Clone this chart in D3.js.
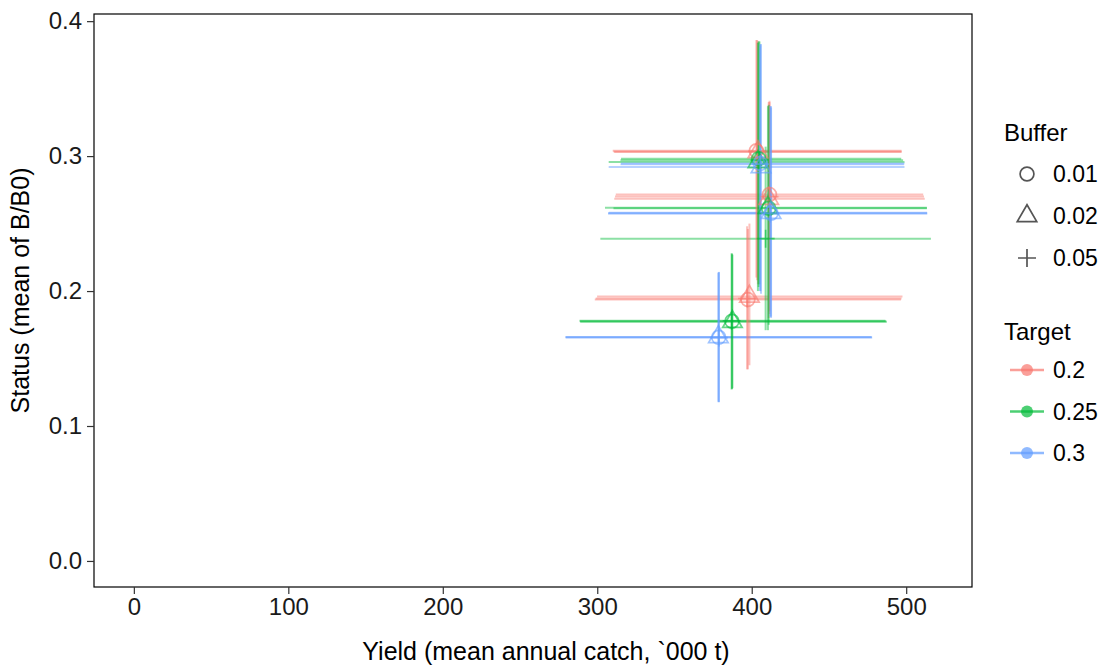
<!DOCTYPE html>
<html lang="en">
<head>
	<meta charset="UTF-8">
	<title>Yield vs status</title>
	<script src="https://cdn.jsdelivr.net/npm/d3@7"></script>
	<style>
		body { margin: 0; background: #fff; }
		text { font-family: "Liberation Sans", Arial, Helvetica, sans-serif; }
	</style>
</head>
<body>
	<svg id="grafico" width="1107" height="667"></svg>
	<script>

	// legend levels
	var buffers = ["0.01", "0.02", "0.05"];
	var targets = ["0.2", "0.25", "0.3"];
	var targetColors = ["#F8766D", "#00BA38", "#619CFF"];
	var xTicks = [0, 100, 200, 300, 400, 500];
	var yTicks = [0, 0.1, 0.2, 0.3, 0.4];

	// one entry per run (target x buffer x scenario)
	var target = ["0.2","0.2","0.2","0.2","0.2","0.2","0.2","0.2","0.2",
		"0.25","0.25","0.25","0.25","0.25","0.25","0.25","0.25","0.25",
		"0.3","0.3","0.3","0.3","0.3","0.3","0.3","0.3","0.3"];
	var buffer = ["0.01","0.02","0.05","0.01","0.02","0.05","0.01","0.02","0.05",
		"0.01","0.02","0.05","0.01","0.02","0.05","0.01","0.02","0.05",
		"0.01","0.02","0.05","0.01","0.02","0.05","0.01","0.02","0.05"];
	var yieldMean = [397.5, 398.5, 397.0, 403.0, 404.0, 403.5, 411.5, 411.0, 411.5,
		387.2, 387.5, 387.0, 404.5, 404.0, 405.0, 411.0, 410.5, 409.0,
		378.6, 378.4, 378.8, 405.5, 406.0, 405.5, 412.5, 412.5, 412.0];
	var yieldLo = [298.4, 299.9, 299.0, 310.0, 311.0, 310.5, 312.0, 311.0, 311.5,
		288.7, 289.0, 288.5, 315.4, 307.4, 315.0, 310.5, 305.0, 302.0,
		279.4, 279.5, 279.6, 315.4, 307.4, 315.0, 307.0, 307.5, 307.0];
	var yieldHi = [496.6, 497.6, 497.0, 497.0, 497.0, 497.0, 511.0, 512.0, 511.5,
		487.0, 487.5, 486.5, 496.8, 498.9, 498.0, 513.4, 513.4, 516.0,
		477.8, 477.5, 478.0, 498.9, 498.9, 498.5, 513.6, 513.5, 513.6];
	var statusMean = [0.1937, 0.1959, 0.1945, 0.304, 0.303, 0.3035, 0.2716, 0.2684, 0.270,
		0.1776, 0.1772, 0.178, 0.298, 0.2956, 0.297, 0.2614, 0.2618, 0.2388,
		0.1657, 0.166, 0.1655, 0.2946, 0.292, 0.294, 0.2577, 0.258, 0.2575];
	var statusLo = [0.142, 0.145, 0.142, 0.210, 0.205, 0.208, 0.185, 0.180, 0.183,
		0.1274, 0.128, 0.127, 0.203, 0.200, 0.205, 0.175, 0.171, 0.171,
		0.1175, 0.118, 0.1178, 0.200, 0.198, 0.200, 0.181, 0.180, 0.181];
	var statusHi = [0.246, 0.250, 0.248, 0.386, 0.385, 0.386, 0.341, 0.340, 0.340,
		0.2277, 0.227, 0.228, 0.385, 0.384, 0.385, 0.338, 0.337, 0.307,
		0.214, 0.2135, 0.2142, 0.383, 0.383, 0.382, 0.337, 0.336, 0.337];

	var rows = d3.range(target.length).map(function(i){
		return {t: target[i], b: buffer[i], x: yieldMean[i], xlo: yieldLo[i], xhi: yieldHi[i],
			y: statusMean[i], ylo: statusLo[i], yhi: statusHi[i]};
	});

	var svg = d3.select("#grafico");
	var pLeft = 94, pRight = 972, pTop = 14, pBottom = 587;

	var x = d3.scaleLinear().domain([-25.8, 542.6]).range([pLeft, pRight]);
	var y = d3.scaleLinear().domain([-0.0193, 0.4053]).range([pBottom, pTop]);
	var color = d3.scaleOrdinal().domain(targets).range(targetColors);

	function shapePath(b){
		if (b === "0.01") return d3.symbol().type(d3.symbolCircle).size(150)();
		if (b === "0.02") return d3.symbol().type(d3.symbolTriangle).size(165)();
		return "M-9,0H9M0,-9V9";
	}

	var plot = svg.append("g");

	// horizontal error bars
	plot.selectAll(".hbar").data(rows).enter().append("line")
		.attr("x1", function(d){ return x(d.xlo); })
		.attr("x2", function(d){ return x(d.xhi); })
		.attr("y1", function(d){ return y(d.y); })
		.attr("y2", function(d){ return y(d.y); })
		.attr("stroke", function(d){ return color(d.t); })
		.attr("stroke-width", 2)
		.attr("stroke-opacity", 0.45);

	// vertical error bars
	plot.selectAll(".vbar").data(rows).enter().append("line")
		.attr("x1", function(d){ return x(d.x); })
		.attr("x2", function(d){ return x(d.x); })
		.attr("y1", function(d){ return y(d.ylo); })
		.attr("y2", function(d){ return y(d.yhi); })
		.attr("stroke", function(d){ return color(d.t); })
		.attr("stroke-width", 2)
		.attr("stroke-opacity", 0.45);

	// points
	plot.selectAll(".pt").data(rows).enter().append("path")
		.attr("transform", function(d){ return "translate(" + x(d.x) + "," + y(d.y) + ")"; })
		.attr("d", function(d){ return shapePath(d.b); })
		.attr("fill", "none")
		.attr("stroke", function(d){ return color(d.t); })
		.attr("stroke-width", 1.7)
		.attr("stroke-opacity", 0.6);

	// panel border
	svg.append("rect")
		.attr("x", pLeft).attr("y", pTop)
		.attr("width", pRight - pLeft).attr("height", pBottom - pTop)
		.attr("fill", "none").attr("stroke", "#000").attr("stroke-width", 1.2);

	// axes
	var xAxis = svg.append("g").attr("transform", "translate(0," + pBottom + ")")
		.call(d3.axisBottom(x).tickValues(xTicks).tickSize(7).tickPadding(4).tickFormat(d3.format("d")));
	var yAxis = svg.append("g").attr("transform", "translate(" + pLeft + ",0)")
		.call(d3.axisLeft(y).tickValues(yTicks).tickSize(7).tickPadding(5).tickFormat(d3.format(".1f")));
	[xAxis, yAxis].forEach(function(a){
		a.select(".domain").remove();
		a.selectAll(".tick line").attr("stroke", "#333").attr("stroke-width", 1.2);
		a.selectAll(".tick text").attr("fill", "#1a1a1a").style("font-size", "24px")
			.style("font-family", "'Liberation Sans', Arial, sans-serif");
	});

	svg.append("text")
		.attr("x", 546).attr("y", 660)
		.attr("text-anchor", "middle").style("font-size", "25px")
		.text("Yield (mean annual catch, `000 t)");
	svg.append("text")
		.attr("transform", "translate(29," + ((pTop + pBottom) / 2 - 10) + ") rotate(-90)")
		.attr("text-anchor", "middle").style("font-size", "25px")
		.text("Status (mean of B/B0)");

	// legends
	var lg = svg.append("g");
	lg.append("text").attr("x", 1004).attr("y", 141).style("font-size", "24px").text("Buffer");
	var by = d3.scalePoint().domain(buffers).range([174, 258]);
	buffers.forEach(function(b){
		lg.append("path")
			.attr("transform", "translate(1027," + by(b) + ")")
			.attr("d", shapePath(b))
			.attr("fill", "none").attr("stroke", "#555").attr("stroke-width", 1.7);
		lg.append("text").attr("x", 1053).attr("y", by(b) + 8).style("font-size", "23px").text(b);
	});

	lg.append("text").attr("x", 1004).attr("y", 340).style("font-size", "24px").text("Target");
	var ty = d3.scalePoint().domain(targets).range([370, 453]);
	targets.forEach(function(t){
		lg.append("line")
			.attr("x1", 1010).attr("x2", 1044).attr("y1", ty(t)).attr("y2", ty(t))
			.attr("stroke", color(t)).attr("stroke-width", 2.5).attr("stroke-opacity", 0.7);
		lg.append("circle").attr("cx", 1027).attr("cy", ty(t)).attr("r", 6)
			.attr("fill", color(t)).attr("fill-opacity", 0.7);
		lg.append("text").attr("x", 1053).attr("y", ty(t) + 8).style("font-size", "23px").text(t);
	});
	</script>
</body>
</html>
